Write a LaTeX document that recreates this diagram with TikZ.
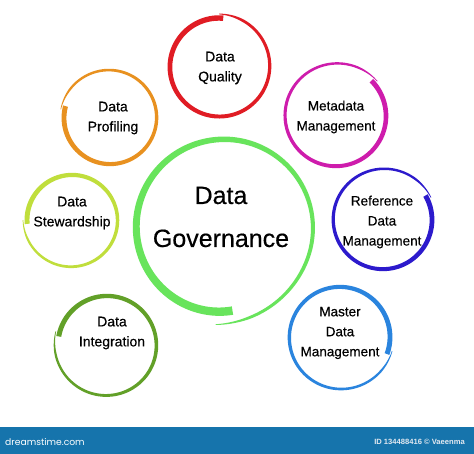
\documentclass[tikz,border=0pt]{standalone}
\usepackage{fontspec}
\setmainfont{Liberation Sans}
\newfontfamily\lblfont[FakeBold=0.4]{Liberation Sans}
\newfontfamily\logofont{Poppins}
\definecolor{cred}{RGB}{224,28,36}
\definecolor{cmag}{RGB}{206,28,172}
\definecolor{cind}{RGB}{44,26,204}
\definecolor{corange}{RGB}{232,145,32}
\definecolor{cyg}{RGB}{192,222,60}
\definecolor{cgreen}{RGB}{98,160,40}
\definecolor{cblue}{RGB}{42,132,222}
\definecolor{cgov}{RGB}{104,228,92}
\definecolor{cbar}{RGB}{22,116,172}
\definecolor{cid}{RGB}{225,232,240}
% #1 centre, #2 radius, #3 colour, #4 start angle, #5 sweep, #6 max width, #7 min width
\newcommand\brushring[7]{%
  \begin{scope}[shift={(#1)}]
    \fill[#3] plot[domain=0:1,samples=180,variable=\u]
      ({(#2-1+4*\u*\u*\u+0.5*(#6-(#6-#7)*\u)*min(1,(1-\u)*10+0.3))*cos(#4+#5*\u)},
       {(#2-1+4*\u*\u*\u+0.5*(#6-(#6-#7)*\u)*min(1,(1-\u)*10+0.3))*sin(#4+#5*\u)})
      -- plot[domain=1:0,samples=180,variable=\u]
      ({(#2-1+4*\u*\u*\u-0.5*(#6-(#6-#7)*\u)*min(1,(1-\u)*10+0.3))*cos(#4+#5*\u)},
       {(#2-1+4*\u*\u*\u-0.5*(#6-(#6-#7)*\u)*min(1,(1-\u)*10+0.3))*sin(#4+#5*\u)})
      -- cycle;
  \end{scope}}
\tikzset{
  lbl/.style={align=center,inner sep=0pt,text=black,font=\lblfont\fontsize{14}{20}\selectfont},
  lblm/.style={lbl,font=\lblfont\fontsize{13.5}{20}\selectfont},
  govlbl/.style={align=center,inner sep=0pt,text=black,font=\lblfont\fontsize{25}{43}\selectfont}
}
\begin{document}
\begin{tikzpicture}[x=1pt,y=-1pt]
  \useasboundingbox (0,0) rectangle (474,454);
  \fill[white] (0,0) rectangle (474,454);

  % ring centres
  \coordinate (govc) at (224,228);
  \coordinate (qc) at (219,67);
  \coordinate (mc) at (336,116);
  \coordinate (rc) at (383,220);
  \coordinate (pc) at (110,118);
  \coordinate (sc) at (72,220);
  \coordinate (ic) at (107,345);
  \coordinate (mac) at (340,337);

  % central spiral brush ring
  \begin{scope}[shift={(govc)}]
    \fill[cgov] plot[domain=0:1,samples=220,variable=\u]
      ({(89-6*exp(-6*\u)+8*((max(\u,0.8)-0.8)/0.2)^2+0.5*(8.5-6*\u)*min(1,(1-\u)*12+0.3))*cos(84+371*\u)},
       {(89-6*exp(-6*\u)+8*((max(\u,0.8)-0.8)/0.2)^2+0.5*(8.5-6*\u)*min(1,(1-\u)*12+0.3))*sin(84+371*\u)})
      -- plot[domain=1:0,samples=220,variable=\u]
      ({(89-6*exp(-6*\u)+8*((max(\u,0.8)-0.8)/0.2)^2-0.5*(8.5-6*\u)*min(1,(1-\u)*12+0.3))*cos(84+371*\u)},
       {(89-6*exp(-6*\u)+8*((max(\u,0.8)-0.8)/0.2)^2-0.5*(8.5-6*\u)*min(1,(1-\u)*12+0.3))*sin(84+371*\u)})
      -- cycle;
  \end{scope}

  \brushring{qc}{50}{cred}{275}{-365}{5.5}{2.5}
  \brushring{mc}{51}{cmag}{315}{365}{5}{2}
  \brushring{rc}{50}{cind}{330}{365}{5}{2}
  \brushring{pc}{47}{corange}{195}{-365}{5}{2}
  \brushring{sc}{46}{cyg}{175}{365}{5}{2}
  \brushring{ic}{50}{cgreen}{190}{365}{5}{2}
  \brushring{mac}{51}{cblue}{20}{-365}{5}{2}

  % labels
  \node[govlbl] (gov) at (221,217) {Data\\Governance};
  \node[lbl] (quality) at (220,68) {Data\\Quality};
  \node[lblm] (meta) at (336,117) {Metadata\\Management};
  \node[lblm] (ref) at (382,222) {Reference\\Data\\Management};
  \node[lbl] (prof) at (113,118) {Data\\Profiling};
  \node[lbl] (stew) at (72,213) {Data\\Stewardship};
  \node[lbl] (integ) at (112,333) {Data\\Integration};
  \node[lblm] (master) at (340,333) {Master\\Data\\Management};

  % bottom bar
  \fill[cbar] (0,427) rectangle (474,454);
  \node[anchor=west,inner sep=0pt,text=white,font=\logofont\fontsize{9.2}{11}\selectfont] (logo) at (5,442) {dreamstime.com};
  \node[anchor=east,inner sep=0pt,text=cid,font=\bfseries\fontsize{7.6}{9}\selectfont] (idtext) at (465,442) {ID 134488416 © Vaeenma};
\end{tikzpicture}
\end{document}
